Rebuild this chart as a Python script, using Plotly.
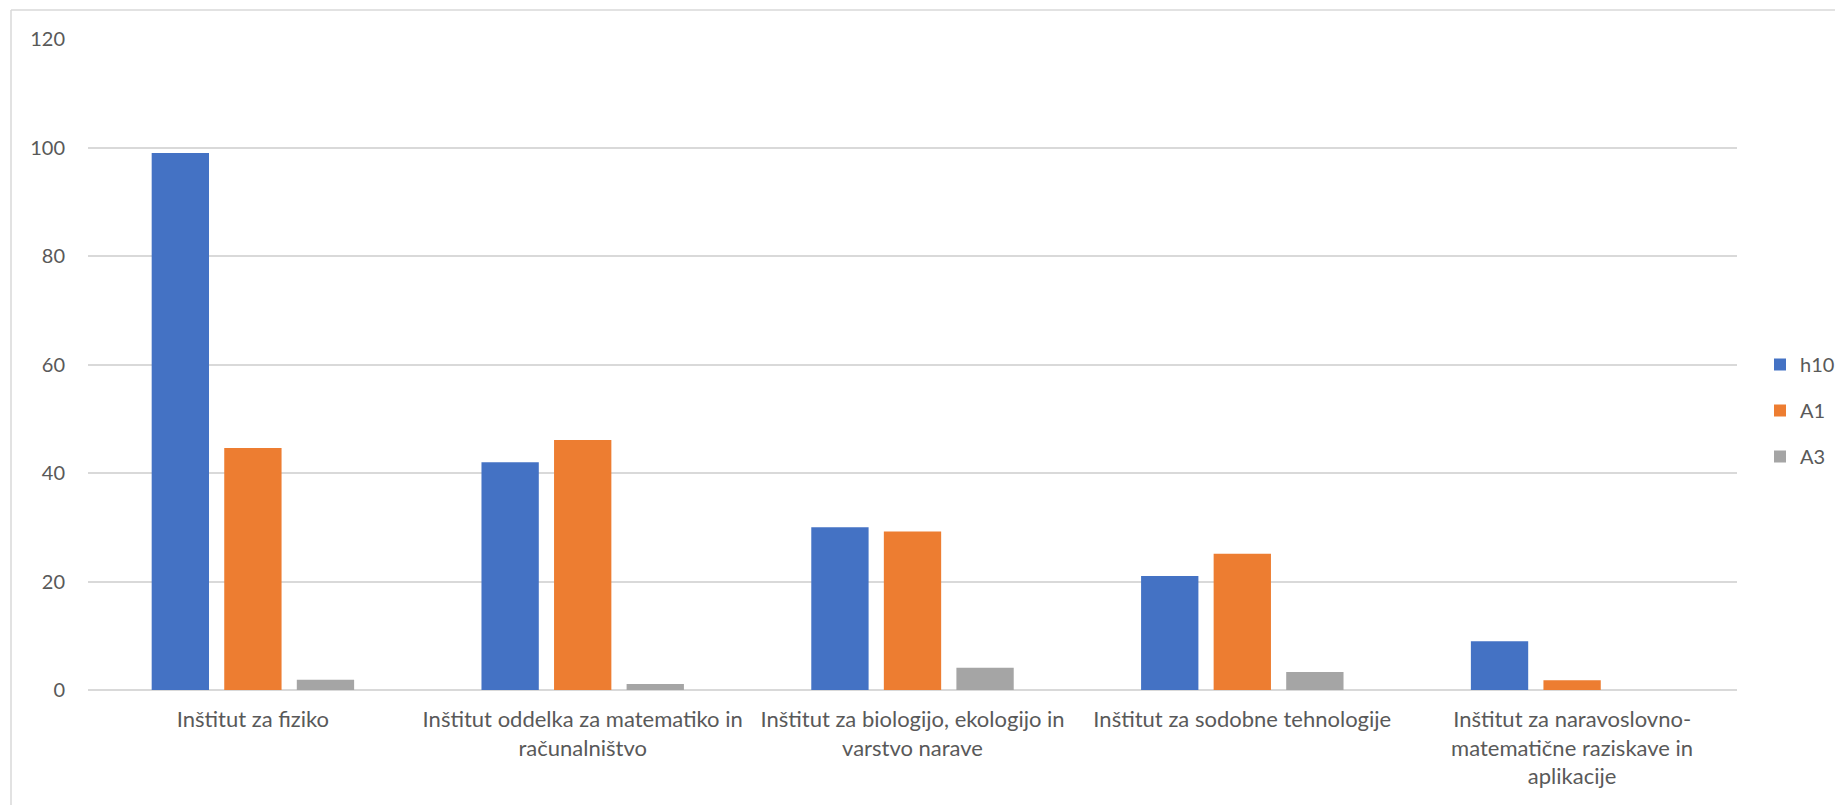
import plotly.graph_objects as go

categories = [
    "Inštitut za fiziko",
    "Inštitut oddelka za matematiko in<br>računalništvo",
    "Inštitut za biologijo, ekologijo in<br>varstvo narave",
    "Inštitut za sodobne tehnologije",
    "Inštitut za naravoslovno-<br>matematične raziskave in<br>aplikacije",
]
h10 = [99, 42, 30, 21, 9]
a1 = [44.6, 46.1, 29.2, 25.1, 1.8]
a3 = [1.9, 1.1, 4.1, 3.3, 0]

series_names = ["h10", "A1", "A3"]
series_values = [h10, a1, a3]
series_colors = ["#4472C4", "#ED7D31", "#A5A5A5"]

W, H = 1843, 805
L, R, T, B = 80, 114, 31, 123
pw, ph = W - L - R, H - T - B

fig = go.Figure()
for name, vals, col in zip(series_names, series_values, series_colors):
    fig.add_trace(go.Bar(x=categories, y=vals, name=name, marker_color=col,
                         marker_line_width=0, legendgroup=name))

font = "Lato, 'Open Sans', sans-serif"
fig.update_layout(
    width=W, height=H,
    margin=dict(l=L, r=R, t=T, b=B, autoexpand=False),
    paper_bgcolor="white", plot_bgcolor="white",
    barmode="group", bargap=0.34, bargroupgap=0.21,
    font=dict(family=font, size=20, color="#595959"),
    legend=dict(xref="container", yref="container", x=1752 / W, xanchor="left",
                y=0.5, yanchor="middle",
                traceorder="grouped", tracegroupgap=17,
                font=dict(size=20, color="#595959")),
    xaxis=dict(showgrid=False, showline=False, ticks="", tickangle=0,
               ticklabelstandoff=14,
               tickfont=dict(size=22, color="#595959")),
    yaxis=dict(range=[0, 120], dtick=20, showgrid=True, gridcolor="#D9D9D9",
               gridwidth=1.5, zeroline=True, zerolinecolor="#D9D9D9",
               zerolinewidth=1.5, showline=False, ticklabelstandoff=22,
               tickfont=dict(size=20, color="#595959")),
    shapes=[
        dict(type="line", xref="paper", yref="paper",
             x0=(3 - L) / pw, x1=(W - L) / pw, y0=(H - B - 2) / ph, y1=(H - B - 2) / ph,
             line=dict(color="#D9D9D9", width=1.5)),
        dict(type="line", xref="paper", yref="paper",
             x0=(3 - L) / pw, x1=(3 - L) / pw, y0=(H - B - 2) / ph, y1=-B / ph,
             line=dict(color="#D9D9D9", width=1.5)),
    ],
)
fig.write_html("out.html")
